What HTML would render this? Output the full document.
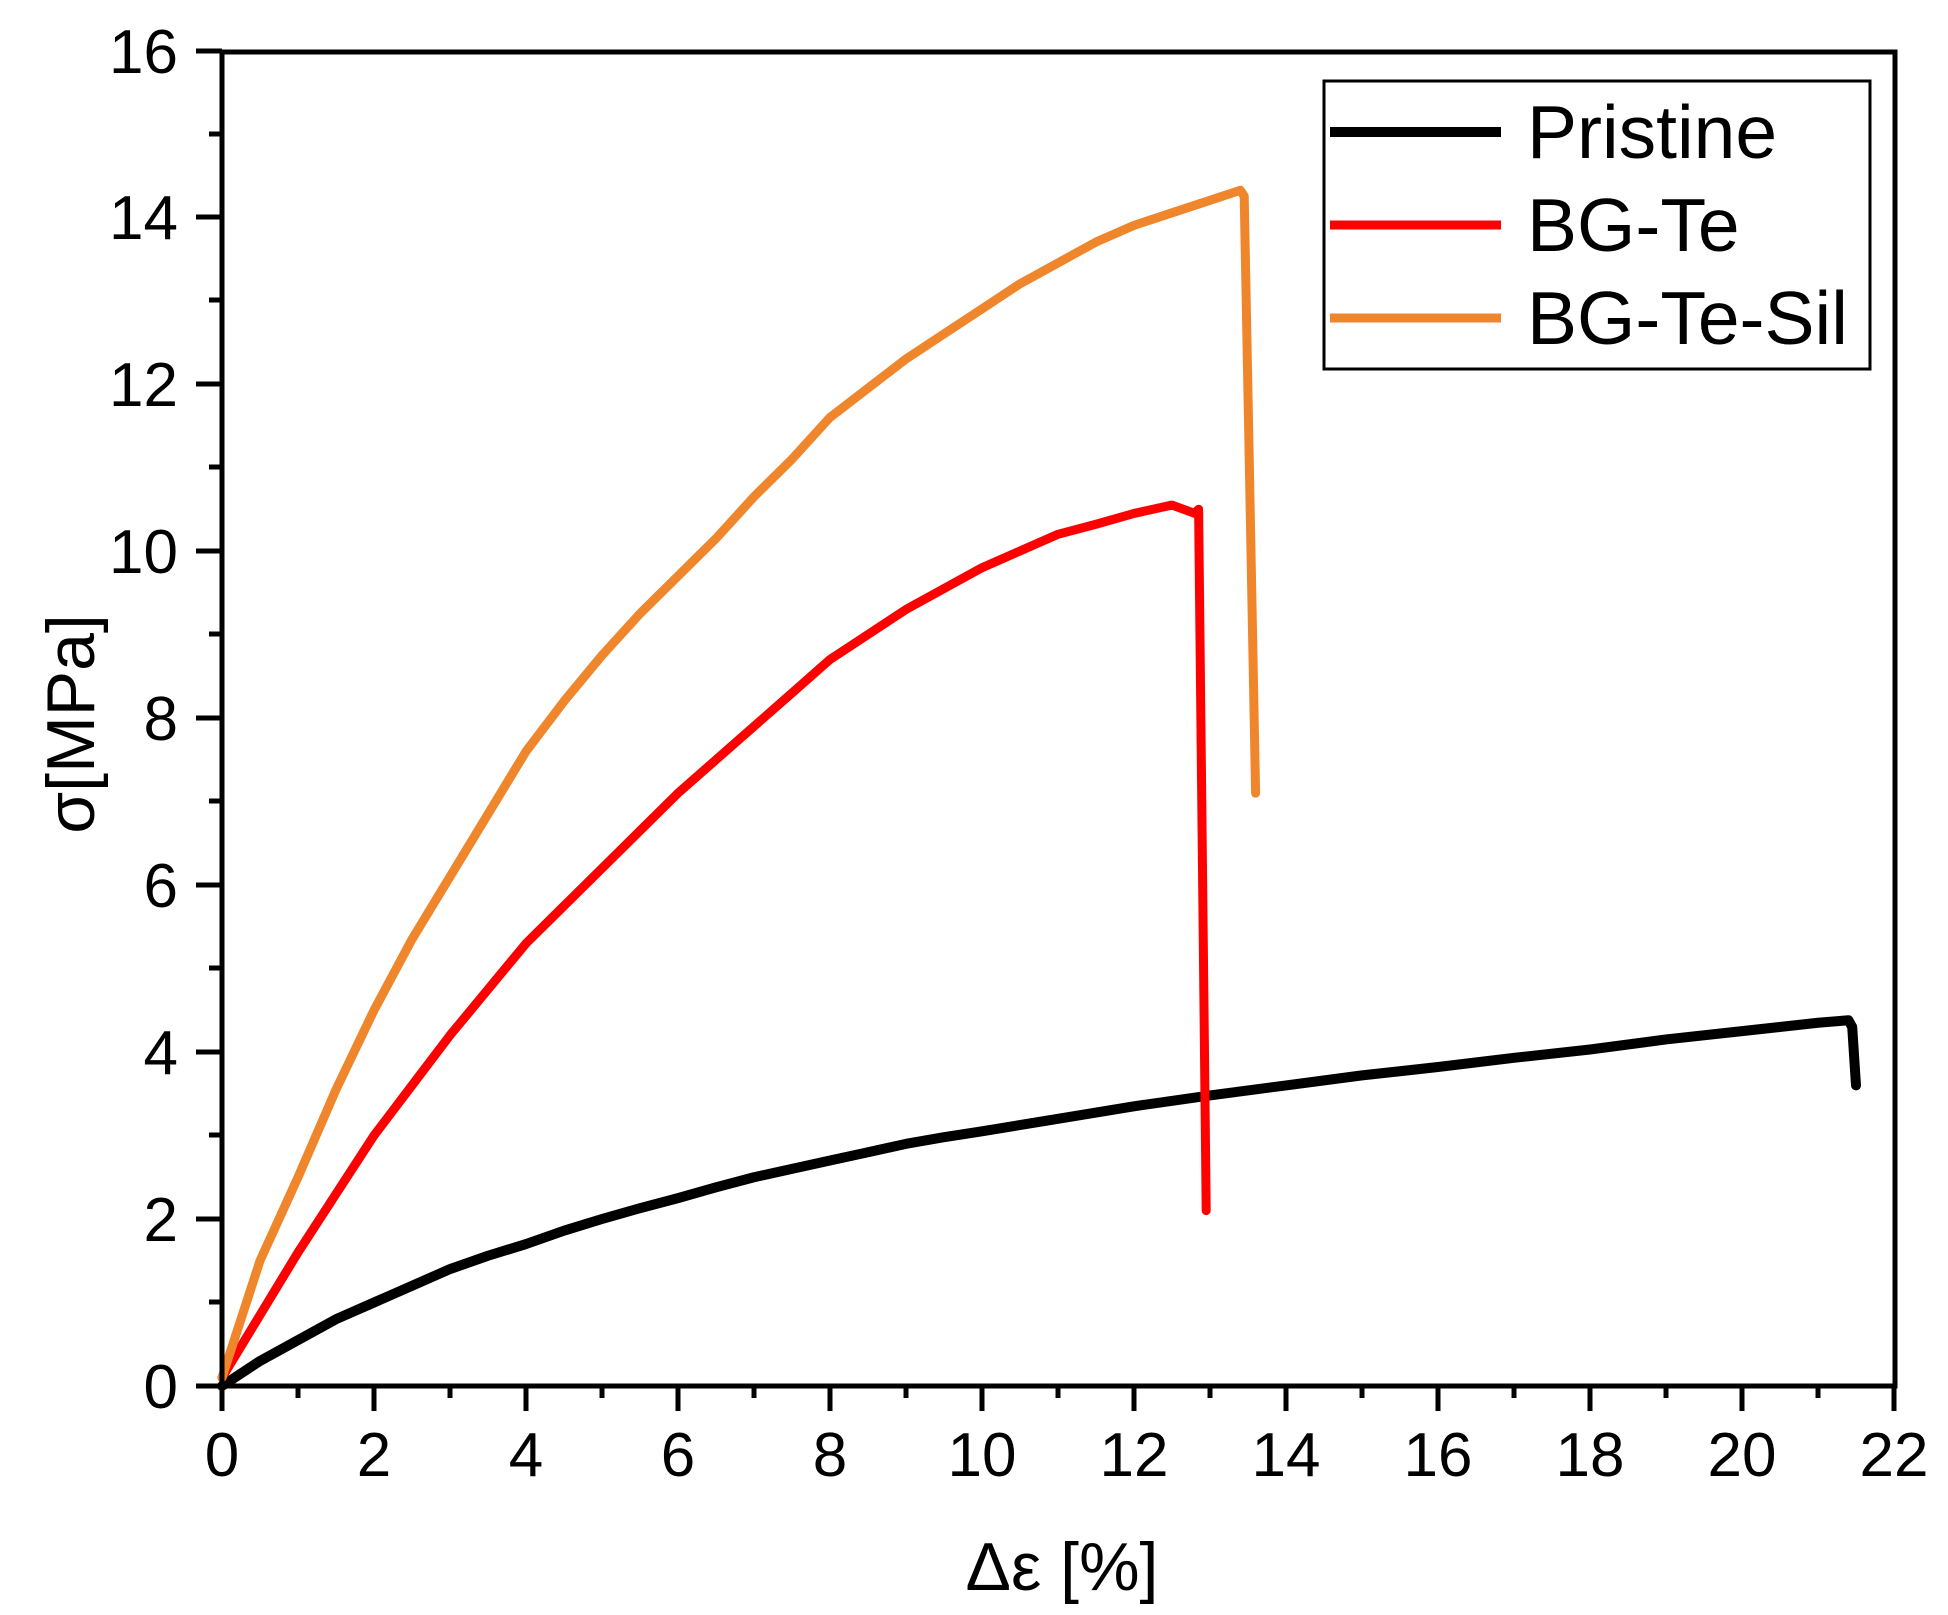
<!DOCTYPE html>
<html><head><style>body{margin:0;background:#fff}svg{display:block}</style></head><body>
<svg width="1948" height="1615" viewBox="0 0 1948 1615" xmlns="http://www.w3.org/2000/svg" font-family="Liberation Sans, sans-serif">
<rect width="1948" height="1615" fill="#fff"/>
<g transform="translate(222,1386) scale(76,-83.5)" fill="none" stroke-linejoin="round" stroke-linecap="round">
<polyline vector-effect="non-scaling-stroke" stroke="#000" stroke-width="10" points="0,0 0.5,0.3 1,0.55 1.5,0.8 2,1.0 2.5,1.2 3,1.4 3.5,1.56 4,1.7 4.5,1.86 5,2.0 5.5,2.13 6,2.25 6.5,2.38 7,2.5 7.5,2.6 8,2.7 8.5,2.8 9,2.9 9.5,2.98 10,3.05 11,3.2 12,3.35 13,3.48 14,3.6 15,3.72 16,3.82 17,3.93 18,4.03 19,4.15 20,4.25 21,4.35 21.4,4.38 21.45,4.3 21.5,3.6"/>
<polyline vector-effect="non-scaling-stroke" stroke="#ff0000" stroke-width="9" points="0,0.1 0.5,0.85 1,1.6 1.5,2.3 2,3.0 2.5,3.6 3,4.2 3.5,4.75 4,5.3 4.5,5.75 5,6.2 5.5,6.65 6,7.1 6.5,7.5 7,7.9 7.5,8.3 8,8.7 8.5,9.0 9,9.3 9.5,9.55 10,9.8 10.5,10.0 11,10.2 11.5,10.32 12,10.45 12.5,10.55 12.8,10.45 12.85,10.5 12.95,2.1"/>
<polyline vector-effect="non-scaling-stroke" stroke="#f0862b" stroke-width="9" points="0,0.1 0.25,0.8 0.5,1.5 0.75,2.0 1,2.5 1.5,3.55 2,4.5 2.5,5.35 3,6.1 3.5,6.85 4,7.6 4.5,8.2 5,8.75 5.5,9.25 6,9.7 6.5,10.15 7,10.65 7.5,11.1 8,11.6 8.5,11.95 9,12.3 9.5,12.6 10,12.9 10.5,13.2 11,13.45 11.5,13.7 12,13.9 12.5,14.05 13,14.2 13.4,14.32 13.45,14.25 13.6,7.1"/>
</g>
<g stroke="#000" stroke-width="5" fill="none">
<rect x="222" y="52" width="1673" height="1334"/>
<path d="M222,1386V1411M374,1386V1411M526,1386V1411M678,1386V1411M830,1386V1411M982,1386V1411M1134,1386V1411M1286,1386V1411M1438,1386V1411M1590,1386V1411M1742,1386V1411M1894,1386V1411"/>
<path d="M298,1386V1398M450,1386V1398M602,1386V1398M754,1386V1398M906,1386V1398M1058,1386V1398M1210,1386V1398M1362,1386V1398M1514,1386V1398M1666,1386V1398M1818,1386V1398"/>
<path d="M222,1386H196M222,1219H196M222,1052H196M222,885H196M222,718H196M222,551H196M222,384H196M222,217H196M222,51H196"/>
<path d="M222,1302H209M222,1135H209M222,968H209M222,801H209M222,634H209M222,467H209M222,300H209M222,134H209"/>
</g>
<g font-size="62" fill="#000" text-anchor="middle">
<text x="222" y="1476">0</text><text x="374" y="1476">2</text><text x="526" y="1476">4</text><text x="678" y="1476">6</text><text x="830" y="1476">8</text><text x="982" y="1476">10</text><text x="1134" y="1476">12</text><text x="1286" y="1476">14</text><text x="1438" y="1476">16</text><text x="1590" y="1476">18</text><text x="1742" y="1476">20</text><text x="1894" y="1476">22</text>
</g>
<g font-size="62" fill="#000" text-anchor="end">
<text x="178" y="1408">0</text><text x="178" y="1241">2</text><text x="178" y="1074">4</text><text x="178" y="907">6</text><text x="178" y="740">8</text><text x="178" y="573">10</text><text x="178" y="406">12</text><text x="178" y="239">14</text><text x="178" y="73">16</text>
</g>
<text x="1062" y="1590" font-size="68" text-anchor="middle">Δε [%]</text>
<text transform="translate(94,724) rotate(-90)" font-size="68" text-anchor="middle">σ[MPa]</text>
<rect x="1324" y="81" width="546" height="288" fill="#fff" stroke="#000" stroke-width="3"/>
<line x1="1330" y1="132" x2="1501" y2="132" stroke="#000" stroke-width="10"/>
<line x1="1330" y1="225" x2="1501" y2="225" stroke="#ff0000" stroke-width="9"/>
<line x1="1330" y1="318" x2="1501" y2="318" stroke="#f0862b" stroke-width="9"/>
<g font-size="75" fill="#000">
<text x="1527" y="158">Pristine</text><text x="1527" y="251">BG-Te</text><text x="1527" y="344">BG-Te-Sil</text>
</g>
</svg>
</body></html>
